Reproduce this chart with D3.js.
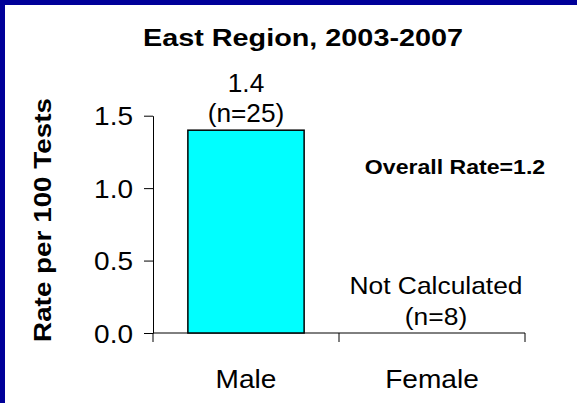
<!DOCTYPE html>
<html>
<head>
<meta charset="utf-8">
<script src="https://cdn.jsdelivr.net/npm/d3@7"></script>
<style>
  html, body { margin: 0; padding: 0; background: #fff; }
  svg { display: block; font-family: Arial, "Liberation Sans", sans-serif; }
</style>
</head>
<body>
<svg id="chart" width="577" height="403"></svg>
<script>
// chart data
const categories = ["Male", "Female"];
const rates = [1.4, null];          // Female rate not calculated
const counts = [25, 8];
const yTicks = [0, 0.5, 1.0, 1.5];
const titleText = "East Region, 2003-2007";
const yTitle = "Rate per 100 Tests";
const overallText = "Overall Rate=1.2";
const notCalcText = "Not Calculated";

const svg = d3.select("#chart");

// navy frame on top and left
svg.append("rect").attr("x", 0).attr("y", 0).attr("width", 577).attr("height", 403).attr("fill", "#000099");
svg.append("rect").attr("x", 5).attr("y", 5).attr("width", 572).attr("height", 398).attr("fill", "#fff");

const margin = {left: 153, right: 52, top: 115.7, bottom: 70};
const x = d3.scaleBand().domain(categories).range([margin.left, 577 - margin.right]).padding(0);
const y = d3.scaleLinear().domain([0, 1.5]).range([333, margin.top]);

// stretched text helper (the source text renders a little wider than Arial)
function label(px, py, str, size, weight, anchor, sx, rot) {
  const g = svg.append("g").attr("transform", `translate(${px},${py})` + (rot ? ` rotate(${rot})` : "") + ` scale(${sx},1)`);
  g.append("text")
    .attr("text-anchor", anchor)
    .attr("font-size", size)
    .attr("font-weight", weight)
    .attr("fill", "#000")
    .text(str);
  return g;
}

// y axis
const yAxis = d3.axisLeft(y).tickValues(yTicks).tickSize(9).tickSizeOuter(0).tickFormat(d3.format(".1f"));
const yAxisG = svg.append("g").attr("transform", `translate(${margin.left},0)`).call(yAxis);
yAxisG.select(".domain").attr("stroke", "#000");
yAxisG.selectAll("line").attr("stroke", "#000");
yAxisG.selectAll("text")
  .attr("font-size", 25)
  .attr("font-family", "Arial, 'Liberation Sans', sans-serif")
  .attr("fill", "#000")
  .attr("x", -20 / 1.12)
  .attr("dy", "0.36em")
  .attr("transform", "scale(1.12,1)");

// x axis with ticks at category boundaries
const x0 = x.range()[0], x1 = x.range()[1];
svg.append("line").attr("x1", x0).attr("x2", x1).attr("y1", y(0)).attr("y2", y(0)).attr("stroke", "#000");
const bounds = categories.map(c => x(c)).concat([x1]);
svg.selectAll(".xtick").data(bounds).join("line")
  .attr("class", "xtick")
  .attr("x1", d => d).attr("x2", d => d)
  .attr("y1", y(0)).attr("y2", y(0) + 9)
  .attr("stroke", "#000");

categories.forEach(c => {
  label(x(c) + x.bandwidth() / 2, 388, c, 26, "normal", "middle", 1.08);
});

// bars
const barW = x.bandwidth() * 0.625;
svg.selectAll(".bar").data(categories.filter((c, i) => rates[i] != null)).join("rect")
  .attr("class", "bar")
  .attr("x", d => x(d) + (x.bandwidth() - barW) / 2)
  .attr("y", d => y(rates[categories.indexOf(d)]))
  .attr("width", barW)
  .attr("height", d => y(0) - y(rates[categories.indexOf(d)]))
  .attr("fill", "#00ffff")
  .attr("stroke", "#000")
  .attr("stroke-width", 1.5);

// value labels
categories.forEach((c, i) => {
  const cx = x(c) + x.bandwidth() / 2;
  if (rates[i] != null) {
    label(cx, y(rates[i]) - 38, d3.format(".1f")(rates[i]), 25, "normal", "middle", 1.05);
    label(cx, y(rates[i]) - 8, `(n=${counts[i]})`, 25, "normal", "middle", 1.05);
  } else {
    label(cx + 4, y(0) - 39, notCalcText, 24, "normal", "middle", 1.1);
    label(cx + 4, y(0) - 8, `(n=${counts[i]})`, 24, "normal", "middle", 1.1);
  }
});

// titles
label(303, 46, titleText, 24, "bold", "middle", 1.2);
label(51, 220, yTitle, 24, "bold", "middle", 1.16, -90);
label(455, 174, overallText, 21, "bold", "middle", 1.1);
</script>
</body>
</html>
